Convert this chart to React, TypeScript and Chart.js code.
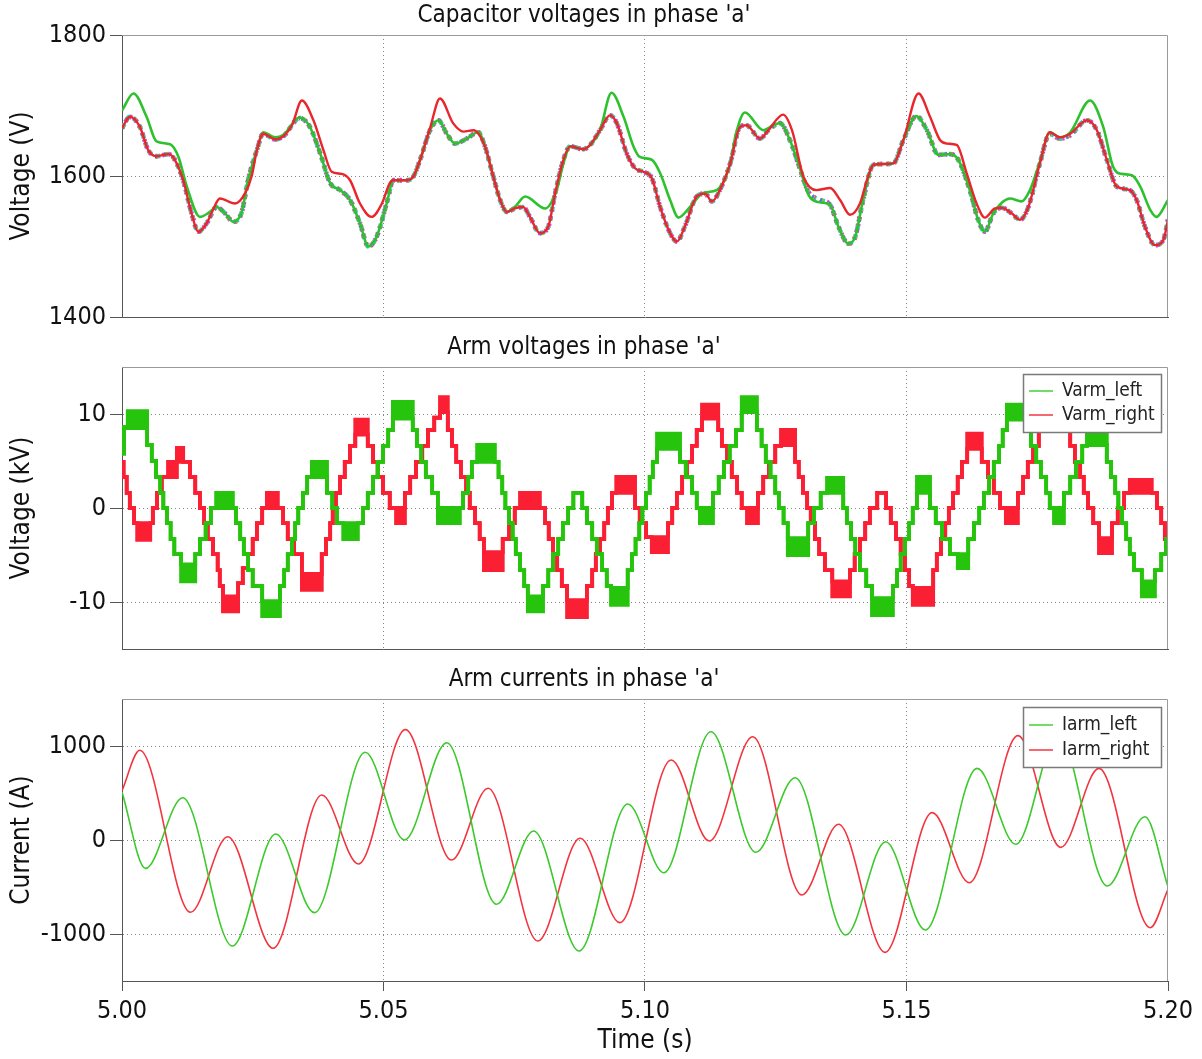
import React, { useEffect, useRef } from "react";
import { Chart, registerables } from "chart.js";

Chart.register(...registerables);

const FONT = "'DejaVu Sans Condensed', 'DejaVu Sans', sans-serif";

// ---------- axes / tick labels ----------
const timeTicks = [5.0, 5.05, 5.1, 5.15, 5.2];
const capTicks = [1400, 1600, 1800];
const armVoltTicks = [-10, 0, 10];
const armCurrTicks = [-1000, 0, 1000];

// ---------- capacitor voltages (s, V) ----------
const capBundleT = [
  5.0000, 5.0015, 5.0034, 5.0050, 5.0066,
  5.0089, 5.0101, 5.0117, 5.0133, 5.0146,
  5.0162, 5.0181, 5.0197, 5.0213, 5.0229,
  5.0241, 5.0258, 5.0270, 5.0293, 5.0308,
  5.0340, 5.0359, 5.0379, 5.0398, 5.0417,
  5.0436, 5.0455, 5.0471, 5.0487, 5.0506,
  5.0519, 5.0544, 5.0557, 5.0570, 5.0589,
  5.0605, 5.0621, 5.0637, 5.0659, 5.0681,
  5.0694, 5.0710, 5.0723, 5.0736, 5.0751,
  5.0767, 5.0780, 5.0799, 5.0815, 5.0828,
  5.0844, 5.0857, 5.0882, 5.0895, 5.0914,
  5.0933, 5.0946, 5.0965, 5.0981, 5.0997,
  5.1013, 5.1029, 5.1048, 5.1061, 5.1076,
  5.1099, 5.1115, 5.1128, 5.1143, 5.1163,
  5.1182, 5.1194, 5.1220, 5.1236, 5.1258,
  5.1277, 5.1296, 5.1312, 5.1335, 5.1354,
  5.1370, 5.1389, 5.1402, 5.1417, 5.1437,
  5.1456, 5.1475, 5.1494, 5.1519, 5.1539,
  5.1561, 5.1583, 5.1599, 5.1621, 5.1637,
  5.1650, 5.1666, 5.1682, 5.1701, 5.1717,
  5.1733, 5.1755, 5.1774, 5.1793, 5.1813,
  5.1845, 5.1864, 5.1883, 5.1902, 5.1927,
  5.1940, 5.1956, 5.1975, 5.1991, 5.2000,
];
const capBundleV = [
  1668, 1684, 1670, 1637, 1628,
  1631, 1623, 1594, 1547, 1521,
  1533, 1556, 1547, 1535, 1549,
  1594, 1637, 1660, 1652, 1656,
  1682, 1670, 1632, 1590, 1580,
  1566, 1533, 1500, 1514, 1561,
  1594, 1594, 1599, 1623, 1665,
  1679, 1660, 1646, 1653, 1662,
  1642, 1599, 1566, 1549, 1554,
  1556, 1542, 1519, 1528, 1575,
  1623, 1642, 1638, 1644, 1665,
  1686, 1675, 1632, 1611, 1606,
  1597, 1556, 1519, 1507, 1528,
  1571, 1575, 1564, 1580, 1618,
  1670, 1672, 1653, 1665, 1675,
  1651, 1611, 1578, 1566, 1559,
  1528, 1504, 1514, 1566, 1616,
  1617, 1618, 1651, 1685, 1665,
  1630, 1631, 1623, 1580, 1538,
  1521, 1547, 1555, 1547, 1538,
  1556, 1618, 1660, 1653, 1658,
  1679, 1665, 1623, 1585, 1580,
  1566, 1528, 1502, 1509, 1538,
];

const capGreenT = [
  5.0000, 5.0022, 5.0047, 5.0066, 5.0092,
  5.0108, 5.0124, 5.0149, 5.0168, 5.0181,
  5.0197, 5.0213, 5.0229, 5.0241, 5.0258,
  5.0270, 5.0293, 5.0308, 5.0340, 5.0359,
  5.0379, 5.0398, 5.0417, 5.0436, 5.0455,
  5.0471, 5.0487, 5.0506, 5.0519, 5.0544,
  5.0557, 5.0570, 5.0589, 5.0605, 5.0621,
  5.0637, 5.0659, 5.0681, 5.0694, 5.0710,
  5.0723, 5.0736, 5.0751, 5.0771, 5.0809,
  5.0831, 5.0844, 5.0857, 5.0882, 5.0895,
  5.0914, 5.0936, 5.0959, 5.0978, 5.0990,
  5.1013, 5.1029, 5.1048, 5.1064, 5.1086,
  5.1111, 5.1137, 5.1163, 5.1174, 5.1191,
  5.1226, 5.1245, 5.1258, 5.1277, 5.1296,
  5.1316, 5.1341, 5.1354, 5.1370, 5.1389,
  5.1402, 5.1417, 5.1437, 5.1456, 5.1475,
  5.1494, 5.1519, 5.1539, 5.1561, 5.1583,
  5.1599, 5.1621, 5.1637, 5.1650, 5.1666,
  5.1698, 5.1720, 5.1736, 5.1755, 5.1774,
  5.1793, 5.1813, 5.1851, 5.1876, 5.1895,
  5.1912, 5.1931, 5.1947, 5.1966, 5.1978,
  5.2000,
];
const capGreenV = [
  1693, 1717, 1684, 1649, 1645,
  1627, 1585, 1542, 1549, 1556,
  1547, 1535, 1549, 1594, 1637,
  1662, 1655, 1658, 1683, 1670,
  1632, 1590, 1580, 1566, 1533,
  1500, 1514, 1561, 1594, 1594,
  1599, 1623, 1665, 1679, 1660,
  1646, 1653, 1662, 1642, 1599,
  1566, 1549, 1556, 1571, 1554,
  1580, 1618, 1642, 1638, 1644,
  1665, 1718, 1684, 1642, 1627,
  1623, 1604, 1566, 1541, 1556,
  1576, 1580, 1618, 1660, 1690,
  1665, 1672, 1675, 1651, 1611,
  1569, 1562, 1559, 1528, 1504,
  1514, 1566, 1616, 1617, 1618,
  1651, 1685, 1665, 1630, 1631,
  1623, 1580, 1538, 1521, 1547,
  1568, 1564, 1580, 1620, 1662,
  1655, 1662, 1707, 1670, 1613,
  1603, 1601, 1585, 1552, 1542,
  1566,
];

const capRedT = [
  5.0000, 5.0015, 5.0034, 5.0050, 5.0066,
  5.0089, 5.0101, 5.0117, 5.0133, 5.0146,
  5.0162, 5.0174, 5.0187, 5.0216, 5.0235,
  5.0248, 5.0258, 5.0270, 5.0293, 5.0308,
  5.0325, 5.0344, 5.0366, 5.0385, 5.0401,
  5.0420, 5.0436, 5.0455, 5.0477, 5.0497,
  5.0512, 5.0519, 5.0544, 5.0557, 5.0570,
  5.0589, 5.0608, 5.0633, 5.0653, 5.0672,
  5.0694, 5.0710, 5.0723, 5.0736, 5.0751,
  5.0767, 5.0780, 5.0799, 5.0815, 5.0828,
  5.0844, 5.0857, 5.0882, 5.0895, 5.0914,
  5.0933, 5.0946, 5.0965, 5.0981, 5.0997,
  5.1013, 5.1029, 5.1048, 5.1061, 5.1076,
  5.1099, 5.1115, 5.1128, 5.1143, 5.1163,
  5.1182, 5.1194, 5.1220, 5.1236, 5.1264,
  5.1281, 5.1303, 5.1328, 5.1354, 5.1373,
  5.1392, 5.1411, 5.1426, 5.1437, 5.1456,
  5.1475, 5.1494, 5.1523, 5.1545, 5.1564,
  5.1577, 5.1596, 5.1615, 5.1634, 5.1650,
  5.1669, 5.1682, 5.1701, 5.1717, 5.1733,
  5.1755, 5.1774, 5.1793, 5.1813, 5.1845,
  5.1864, 5.1883, 5.1902, 5.1927, 5.1940,
  5.1956, 5.1975, 5.1991, 5.2000,
];
const capRedV = [
  1668, 1684, 1670, 1637, 1628,
  1631, 1623, 1594, 1547, 1521,
  1533, 1552, 1568, 1561, 1575,
  1600, 1637, 1660, 1652, 1656,
  1672, 1707, 1679, 1637, 1606,
  1603, 1594, 1561, 1542, 1561,
  1590, 1594, 1594, 1599, 1623,
  1668, 1710, 1675, 1663, 1665,
  1642, 1599, 1566, 1549, 1554,
  1556, 1542, 1519, 1528, 1575,
  1623, 1642, 1638, 1644, 1665,
  1686, 1675, 1632, 1611, 1606,
  1597, 1556, 1519, 1507, 1528,
  1571, 1575, 1564, 1580, 1618,
  1670, 1672, 1653, 1665, 1687,
  1665, 1599, 1580, 1583, 1566,
  1545, 1561, 1598, 1616, 1617,
  1618, 1651, 1717, 1684, 1651,
  1646, 1644, 1604, 1561, 1541,
  1554, 1555, 1547, 1538, 1556,
  1618, 1662, 1655, 1660, 1679,
  1665, 1623, 1585, 1580, 1566,
  1528, 1502, 1509, 1538,
];

// ---------- arm voltages: step start times (ms after 5 s), upper level (kV) ----------
const armLeftMs = [
  0.0, 0.4, 1.1, 4.8, 5.7, 6.5, 7.3, 7.9, 8.6, 9.3, 10.0, 11.3,
  14.0, 14.9, 16.0, 17.0, 18.0,
  21.2, 21.8, 22.6, 23.3, 24.1, 25.0, 26.8,
  30.2, 31.0, 31.7, 32.5, 33.1, 33.7, 34.6, 35.4, 36.3,
  39.2, 40.2, 41.1, 42.3,
  45.1, 46.1, 47.0, 48.0, 48.9, 49.9, 50.9, 51.8,
  55.6, 56.4, 57.2, 58.1, 59.3, 60.4,
  64.6, 65.2, 66.2, 66.9, 67.9,
  71.3, 72.0, 72.7, 73.3, 74.0, 74.7, 75.3, 76.1, 76.9, 77.6,
  80.5, 81.5, 82.4, 83.4, 84.3, 85.3, 86.3, 88.0, 88.9, 89.9, 90.8, 91.8, 92.7, 93.5,
  96.7, 97.5, 98.2, 98.9, 99.5, 100.2, 100.9, 101.5, 102.3,
  106.7, 107.8, 109.0, 109.9, 110.5,
  113.0, 114.1, 115.1, 116.2, 117.4, 118.5,
  121.4, 122.3, 123.1, 124.0, 124.9, 125.6, 126.5, 127.3,
  131.2, 132.3, 133.6, 134.8,
  137.9, 138.6, 139.4, 140.2, 141.1, 142.3, 143.4,
  147.4, 148.2, 148.9, 149.7, 150.5, 151.2, 152.0,
  154.5, 155.6, 156.8, 158.3, 159.8,
  161.8, 162.9, 163.9, 164.8, 165.8, 166.7, 167.7, 168.4, 169.2,
  173.0, 173.8, 174.8, 175.7, 176.7, 177.4, 178.2,
  180.1, 181.3, 182.4, 183.6, 184.5,
  188.3, 189.1, 189.9, 190.5, 191.2, 192.0, 192.7, 193.5, 195.0,
  197.5, 198.7, 199.6, 200.0,
];
const armLeftV = [
  5.8, 8.6, 10.3, 6.7, 5.0, 3.3, 1.6, 0, -1.6, -3.3, -4.9, -6.0,
  -4.9, -3.3, -1.6, 0, 1.6,
  0, -1.6, -3.3, -4.9, -6.6, -8.3, -9.9,
  -8.3, -6.6, -4.9, -3.3, -1.6, 0, 1.6, 3.3, 4.9,
  1.6, 0, -1.6, -1.6,
  -1.6, 0, 1.6, 3.3, 4.9, 6.6, 8.3, 11.3,
  8.3, 6.6, 4.9, 3.3, 1.6, 0,
  0, 1.6, 3.3, 4.9, 6.7,
  4.9, 3.3, 1.6, 0, -1.6, -3.3, -4.9, -6.6, -8.3, -9.4,
  -8.3, -6.6, -4.9, -3.3, -1.6, 0, 1.6, 0, -1.6, -3.3, -4.9, -6.6, -8.3, -8.5,
  -6.6, -4.9, -3.3, -1.6, 0, 1.6, 3.3, 4.9, 7.9,
  4.9, 3.3, 1.6, 0, 0,
  1.6, 3.3, 4.9, 6.6, 8.3, 11.8,
  8.3, 6.6, 4.9, 3.3, 1.6, 0, -1.6, -3.2,
  -1.6, 0, 1.6, 3.2,
  0, -1.6, -3.3, -4.9, -6.6, -8.3, -9.6,
  -8.3, -6.6, -4.9, -3.3, -1.6, 0, 3.3,
  0, -1.6, -3.3, -4.9, -4.9,
  -3.3, -1.6, 0, 1.6, 3.3, 4.9, 6.6, 8.3, 11.0,
  8.3, 6.6, 4.9, 3.3, 1.6, 0, 0,
  1.6, 3.3, 4.9, 6.6, 8.3,
  4.9, 3.3, 1.6, 0, -1.6, -3.3, -4.9, -6.6, -7.8,
  -6.6, -4.9, -3.3, -3.3,
];
// switching blocks: start (ms) and lower level (kV)
const armLeftBlockMs = [1.1, 11.3, 18.0, 26.8, 36.3, 42.3, 51.8, 60.4, 67.9, 77.6, 93.5, 102.3,
  110.5, 118.5, 127.3, 134.8, 143.4, 152.0, 159.8, 169.2, 178.2, 184.5, 195.0];
const armLeftBlockLow = [8.5, -7.8, 0, -11.5, 3.3, -3.3, 9.5, -1.6, 4.9, -11.0, -10.3, 6.3,
  -1.6, 10.2, -5.0, 1.6, -11.4, 1.6, -6.4, 9.4, -1.6, 6.7, -9.4];

const armRightMs = [
  0.0, 0.3, 0.9, 1.5, 2.3, 2.9,
  5.4, 5.9, 6.7, 7.6, 8.8, 10.5,
  11.7, 13.0, 14.0, 14.9, 15.7, 16.4, 17.4, 18.3, 18.7, 19.3,
  22.2, 23.1, 24.1, 25.0, 25.8, 26.8, 27.7,
  29.8, 30.8, 31.7, 32.9, 34.4,
  38.2, 39.0, 39.8, 40.3, 40.9, 41.7, 42.6, 43.6, 44.6,
  47.0, 48.0, 48.9, 49.9, 51.2, 52.4,
  54.1, 55.1, 56.2, 57.4, 58.5, 59.7, 60.8,
  62.3, 63.1, 63.9, 64.8, 65.8, 66.5, 67.5, 68.4, 69.2,
  72.8, 74.0, 75.1, 76.1,
  79.9, 80.9, 81.6, 82.4, 83.2, 84.1, 85.1,
  88.9, 89.9, 90.6, 91.4, 92.2, 92.9, 93.7, 94.5,
  98.1, 99.0, 100.2, 101.3,
  104.4, 105.2, 106.1, 107.1, 108.0, 109.0, 109.9, 110.9,
  114.0, 114.7, 115.7, 116.6, 117.6, 118.5, 119.5,
  121.6, 122.6, 123.7, 124.9, 126.0,
  128.7, 129.4, 130.2, 131.0, 131.7, 132.5, 133.3, 134.4, 135.8,
  139.2, 140.1, 141.1, 142.1, 143.0, 144.4, 146.1, 147.0, 148.0, 148.9, 149.7, 150.5, 151.2,
  155.1, 155.8, 156.6, 157.4, 158.1, 158.9, 159.8, 160.6, 161.6,
  164.4, 165.6, 166.7, 167.9, 169.0,
  171.3, 172.3, 173.2, 174.2, 175.3, 176.5,
  180.1, 181.3, 182.2, 183.2, 183.9, 184.7, 185.7, 186.8,
  189.3, 190.4, 191.6, 192.7,
  196.9, 197.9, 198.7, 199.4, 200.0,
];
const armRightV = [
  4.9, 3.3, 1.6, 0, -1.6, -1.6,
  -1.6, 0, 1.6, 3.3, 4.9, 6.4,
  4.9, 3.3, 1.6, 0, -1.6, -3.3, -4.9, -6.6, -8.3, -9.4,
  -8.0, -6.4, -4.9, -3.3, -1.6, 0, 1.6,
  0, -1.6, -3.3, -4.9, -7.0,
  -4.9, -3.3, -1.6, 0, 1.6, 3.3, 4.9, 6.6, 9.4,
  6.6, 4.9, 3.3, 1.6, 0, 0,
  1.6, 3.3, 4.9, 6.6, 8.3, 9.6, 11.8,
  8.3, 6.6, 4.9, 3.3, 1.6, 0, -1.6, -3.3, -4.7,
  -3.3, -1.6, 0, 1.6,
  0, -1.6, -3.3, -4.9, -6.6, -8.3, -9.8,
  -8.3, -6.6, -4.9, -3.3, -1.6, 0, 1.6, 3.3,
  0, -1.6, -3.1, -3.1,
  -1.6, 0, 1.6, 3.3, 4.9, 6.6, 8.3, 11.0,
  8.3, 6.6, 4.9, 3.3, 1.6, 0, 0,
  1.6, 3.3, 4.9, 6.6, 8.3,
  4.9, 3.3, 1.6, 0, -1.6, -3.3, -4.9, -6.6, -7.8,
  -6.6, -4.9, -3.3, -1.6, 0, 1.6, 0, -1.6, -3.3, -4.9, -6.6, -8.3, -8.5,
  -6.6, -4.9, -3.3, -1.6, 0, 1.6, 3.3, 4.9, 7.9,
  4.9, 3.3, 1.6, 0, 0,
  1.6, 3.3, 4.9, 6.6, 8.3, 11.5,
  8.3, 6.6, 4.9, 3.3, 1.6, 0, -1.6, -3.2,
  -1.6, 0, 1.6, 3.0,
  1.6, 0, -1.6, -3.3, -4.9,
];
const armRightBlockMs = [2.9, 8.8, 10.5, 19.3, 27.7, 34.4, 44.6, 52.4, 60.8, 69.2, 76.1, 85.1,
  94.5, 101.3, 110.9, 119.5, 126.0, 135.8, 151.2, 161.6, 169.0, 176.5, 186.8, 192.7];
const armRightBlockLow = [-3.4, 3.3, 4.9, -11.0, 0, -8.7, 7.8, -1.6, 10.2, -6.6, 0, -11.6,
  1.6, -4.7, 9.5, -1.6, 6.7, -9.4, -10.3, 6.3, -1.6, 10.0, -4.8, 1.6];

// ---------- arm currents (s, A): turning points ----------
const iarmLeftT = [
  5.0000, 5.0045, 5.0116, 5.0211, 5.0294, 5.0368, 5.0465, 5.0540, 5.0621,
  5.0716, 5.0787, 5.0874, 5.0967, 5.1036, 5.1126, 5.1212, 5.1287, 5.1384,
  5.1460, 5.1536, 5.1635, 5.1709, 5.1790, 5.1884, 5.1956, 5.2000,
];
const iarmLeftV = [
  510, -302, 450, -1128, 64, -773, 933, 0, 1035,
  -684, 96, -1181, 383, -348, 1152, -131, 663, -1011,
  -18, -957, 762, -46, 1130, -489, 248, -497,
];
const iarmRightT = [
  5.0000, 5.0034, 5.0131, 5.0202, 5.0289, 5.0382, 5.0452, 5.0542, 5.0630,
  5.0700, 5.0795, 5.0876, 5.0952, 5.1050, 5.1123, 5.1206, 5.1300, 5.1370,
  5.1459, 5.1549, 5.1620, 5.1713, 5.1795, 5.1868, 5.1966, 5.2000,
];
const iarmRightV = [
  525, 954, -769, 35, -1152, 479, -255, 1174, -213,
  550, -1074, 18, -879, 851, -11, 1099, -585, 167,
  -1195, 291, -454, 1110, -78, 762, -933, -525,
];

// ---------- styling ----------
const TEXT = "#111111";
const AXIS = "#555555";
const GRID = "#858585";

const zip = (t: number[], v: number[]) => t.map((x, i) => ({ x, y: v[i] }));
const msPts = (ms: number[], v: number[]) => ms.map((m, i) => ({ x: 5 + m / 1000, y: v[i] }));
const lowerLevels = (ms: number[], hi: number[], blockMs: number[], blockLow: number[]) =>
  ms.map((m, i) => {
    const k = blockMs.indexOf(m);
    return k >= 0 ? blockLow[k] : hi[i];
  });

function gridColor(min: number, max: number) {
  return (c: any) => {
    const v = c.tick ? c.tick.value : NaN;
    return Math.abs(v - min) < 1e-9 || Math.abs(v - max) < 1e-9 ? "rgba(0,0,0,0)" : GRID;
  };
}

const framePlugin = {
  id: "frame",
  afterDatasetsDraw(chart: any) {
    const { ctx, chartArea: a } = chart;
    ctx.save();
    ctx.strokeStyle = "#9a9a9a";
    ctx.lineWidth = 1;
    const t = Math.round(a.top) + 0.5;
    const r = Math.round(a.right) - 0.5;
    ctx.beginPath();
    ctx.moveTo(a.left, t);
    ctx.lineTo(r, t);
    ctx.lineTo(r, a.bottom);
    ctx.stroke();
    ctx.restore();
  },
};

const boxLegend = {
  id: "boxLegend",
  afterDraw(chart: any, _args: any, opts: any) {
    const items = opts && opts.items;
    if (!items || !items.length) return;
    const { ctx, chartArea } = chart;
    const w = opts.width;
    const h = opts.height;
    const x = Math.round(chartArea.right - opts.right - w);
    const y = Math.round(chartArea.top + opts.top);
    ctx.save();
    ctx.fillStyle = "#ffffff";
    ctx.fillRect(x, y, w, h);
    ctx.strokeStyle = "#7a7a7a";
    ctx.lineWidth = 1.5;
    ctx.strokeRect(x + 0.5, y + 0.5, w, h);
    ctx.font = `19px ${FONT}`;
    ctx.textBaseline = "middle";
    ctx.textAlign = "left";
    items.forEach((it: any, i: number) => {
      const yy = y + opts.first + i * opts.gap;
      ctx.strokeStyle = it.color;
      ctx.lineWidth = 1.6;
      ctx.beginPath();
      ctx.moveTo(x + 6, yy);
      ctx.lineTo(x + 30, yy);
      ctx.stroke();
      ctx.fillStyle = "#222222";
      ctx.fillText(it.label, x + 39, yy);
    });
    ctx.restore();
  },
};

function makeOptions(cfg: any) {
  const titleFont = { family: FONT, size: 24, weight: "normal" };
  const axisTitleFont = { family: FONT, size: 26, weight: "normal" };
  const tickFont = { family: FONT, size: 25, weight: "normal" };
  return {
    responsive: false,
    animation: false,
    devicePixelRatio: 1,
    events: [],
    layout: { padding: { left: 0, right: 34, top: 0, bottom: 0 } },
    elements: { point: { radius: 0 } },
    plugins: {
      legend: { display: false },
      tooltip: { enabled: false },
      title: {
        display: true,
        text: cfg.title,
        color: TEXT,
        font: titleFont,
        padding: { top: cfg.titleTop, bottom: 5 },
      },
      boxLegend: cfg.legend || { items: [] },
    },
    scales: {
      x: {
        type: "linear",
        min: 5.0,
        max: 5.2,
        afterBuildTicks: (s: any) => {
          s.ticks = timeTicks.map((value) => ({ value }));
        },
        afterFit: (s: any) => {
          s.height = cfg.xHeight;
          s.paddingLeft = 0;
          s.paddingRight = 0;
        },
        ticks: {
          display: cfg.xLabels,
          font: tickFont,
          color: TEXT,
          padding: 5,
          maxRotation: 0,
          autoSkip: false,
          callback: (v: any) => Number(v).toFixed(2),
        },
        grid: {
          color: gridColor(5.0, 5.2),
          lineWidth: 1,
          drawTicks: cfg.xLabels,
          tickLength: 10,
          tickColor: AXIS,
          tickWidth: 1,
          tickBorderDash: [],
        },
        border: { display: true, color: AXIS, width: 1, dash: [1, 3] },
        title: {
          display: cfg.xLabels,
          text: "Time (s)",
          color: TEXT,
          font: axisTitleFont,
          padding: { top: 0, bottom: 2 },
        },
      },
      y: {
        type: "linear",
        min: cfg.yMin,
        max: cfg.yMax,
        afterBuildTicks: (s: any) => {
          s.ticks = cfg.yTicks.map((value: number) => ({ value }));
        },
        afterFit: (s: any) => {
          s.width = 122;
          s.paddingTop = 0;
          s.paddingBottom = 0;
        },
        ticks: { font: tickFont, color: TEXT, padding: 4, callback: (v: any) => String(v) },
        grid: {
          color: gridColor(cfg.yMin, cfg.yMax),
          lineWidth: 1,
          drawTicks: true,
          tickLength: 12,
          tickColor: AXIS,
          tickWidth: 1,
          tickBorderDash: [],
        },
        border: { display: true, color: AXIS, width: 1, dash: [1, 3] },
        title: {
          display: true,
          text: cfg.yTitle,
          color: TEXT,
          font: axisTitleFont,
          padding: { top: 7, bottom: 0 },
        },
      },
    },
  };
}

const capLine = (t: number[], v: number[], color: string, width: number, dash: number[] = []) => ({
  data: zip(t, v),
  borderColor: color,
  borderWidth: width,
  borderDash: dash,
  cubicInterpolationMode: "monotone",
  pointRadius: 0,
  fill: false,
});

const stepLine = (ms: number[], v: number[], color: string, fill: any) => ({
  data: msPts(ms, v),
  borderColor: color,
  backgroundColor: color,
  borderWidth: 3.8,
  stepped: "before",
  borderJoinStyle: "miter",
  pointRadius: 0,
  fill,
});

const currLine = (t: number[], v: number[], color: string) => ({
  data: zip(t, v),
  borderColor: color,
  borderWidth: 1.6,
  cubicInterpolationMode: "monotone",
  pointRadius: 0,
  fill: false,
});

const ARM_GREEN = "#26c40c";
const ARM_RED = "#fb1f34";

export default function App() {
  const c1 = useRef<HTMLCanvasElement>(null);
  const c2 = useRef<HTMLCanvasElement>(null);
  const c3 = useRef<HTMLCanvasElement>(null);

  useEffect(() => {
    const capChart = new Chart(c1.current as HTMLCanvasElement, {
      type: "line",
      data: {
        datasets: [
          capLine(capRedT, capRedV, "#e8262b", 2.4),
          capLine(capGreenT, capGreenV, "#2ec12e", 2.6),
          capLine(capBundleT, capBundleV, "#3c7cf0", 3.8, [2, 7]),
          capLine(capBundleT, capBundleV, "#e8a21c", 4.4, [3, 6]),
          capLine(capBundleT, capBundleV, "#e040d8", 4.8, [2, 5]),
          capLine(capBundleT, capBundleV, "#25cfc4", 4.6, [5, 4]),
        ],
      } as any,
      options: makeOptions({
        title: "Capacitor voltages in phase 'a'",
        titleTop: 1.2,
        yTitle: "Voltage (V)",
        yMin: 1400,
        yMax: 1800,
        yTicks: capTicks,
        xHeight: 13,
        xLabels: false,
      }) as any,
      plugins: [framePlugin, boxLegend],
    });

    const armVChart = new Chart(c2.current as HTMLCanvasElement, {
      type: "line",
      data: {
        datasets: [
          stepLine(armLeftMs, armLeftV, ARM_GREEN, false),
          stepLine(armLeftMs, lowerLevels(armLeftMs, armLeftV, armLeftBlockMs, armLeftBlockLow), ARM_GREEN, "-1"),
          stepLine(armRightMs, armRightV, ARM_RED, false),
          stepLine(armRightMs, lowerLevels(armRightMs, armRightV, armRightBlockMs, armRightBlockLow), ARM_RED, "-1"),
        ],
      } as any,
      options: makeOptions({
        title: "Arm voltages in phase 'a'",
        titleTop: 3.2,
        yTitle: "Voltage (kV)",
        yMin: -15,
        yMax: 15,
        yTicks: armVoltTicks,
        xHeight: 11,
        xLabels: false,
        legend: {
          items: [
            { label: "Varm_left", color: "#52d242" },
            { label: "Varm_right", color: "#f4444e" },
          ],
          width: 138,
          height: 58,
          right: 7,
          top: 7,
          first: 17,
          gap: 24,
        },
      }) as any,
      plugins: [framePlugin, boxLegend],
    });

    const armIChart = new Chart(c3.current as HTMLCanvasElement, {
      type: "line",
      data: {
        datasets: [
          currLine(iarmLeftT, iarmLeftV, "#3cc92c"),
          currLine(iarmRightT, iarmRightV, "#f2343f"),
        ],
      } as any,
      options: makeOptions({
        title: "Arm currents in phase 'a'",
        titleTop: 5.2,
        yTitle: "Current (A)",
        yMin: -1500,
        yMax: 1500,
        yTicks: armCurrTicks,
        xHeight: 78,
        xLabels: true,
        legend: {
          items: [
            { label: "Iarm_left", color: "#52d242" },
            { label: "Iarm_right", color: "#f4444e" },
          ],
          width: 138,
          height: 60,
          right: 7,
          top: 8,
          first: 18,
          gap: 25,
        },
      }) as any,
      plugins: [framePlugin, boxLegend],
    });

    return () => {
      capChart.destroy();
      armVChart.destroy();
      armIChart.destroy();
    };
  }, []);

  return (
    <div style={{ position: "absolute", left: 0, top: 0, width: 1202, height: 1059, background: "#ffffff" }}>
      <canvas ref={c1} width={1202} height={330} style={{ position: "absolute", left: 0, top: 0 }} />
      <canvas ref={c2} width={1202} height={330} style={{ position: "absolute", left: 0, top: 330 }} />
      <canvas ref={c3} width={1202} height={399} style={{ position: "absolute", left: 0, top: 660 }} />
    </div>
  );
}
